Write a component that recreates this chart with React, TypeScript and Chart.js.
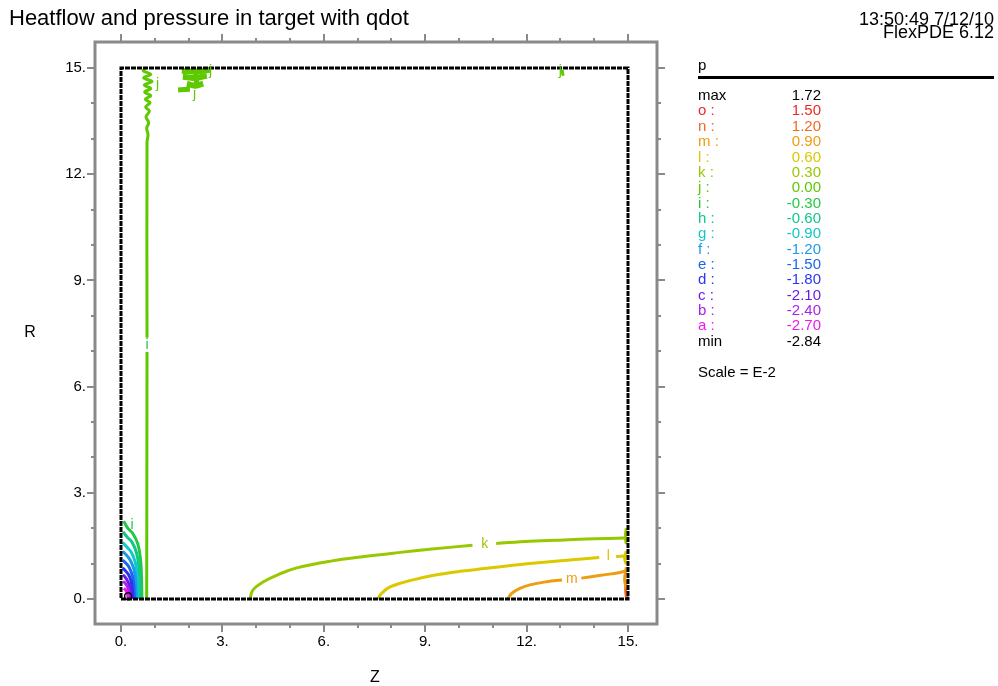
import React, { useEffect, useRef } from "react";
import { Chart, registerables } from "chart.js";

Chart.register(...registerables);

// ---- axis ticks ----
const zMajorTicks = [0, 3, 6, 9, 12, 15];
const rMajorTicks = [0, 3, 6, 9, 12, 15];
const minorTicks = [0, 1, 2, 3, 4, 5, 6, 7, 8, 9, 10, 11, 12, 13, 14, 15];
const tickLabels = ["0.", "3.", "6.", "9.", "12.", "15."];

// ---- contour levels (scale E-2) ----
const levelLetters = ["o", "n", "m", "l", "k", "j", "i", "h", "g", "f", "e", "d", "c", "b", "a"];
const levelValues = ["1.50", "1.20", "0.90", "0.60", "0.30", "0.00", "-0.30", "-0.60", "-0.90", "-1.20", "-1.50", "-1.80", "-2.10", "-2.40", "-2.70"];
const levelColors = ["#ee2a22", "#ee6a22", "#ee9c11", "#dcc800", "#98c800", "#5ec800", "#22c844", "#11c888", "#11c8c8", "#1a9aee", "#1a66ee", "#2a36ee", "#6a1aee", "#aa22ee", "#ee18ee"];
const pMax = "1.72";
const pMin = "-2.84";

// domain outline (Z, R)
const domainBox = [[0, 0], [15, 0], [15, 15], [0, 15], [0, 0]];

// contour polylines as (Z, R) pairs; null breaks the line for a label
const contourK = [[3.82, 0], [3.9, 0.25], [4.2, 0.48], [4.7, 0.71], [5.2, 0.88], [6.2, 1.07], [7.2, 1.2], [8.2, 1.31], [9.2, 1.41], [10.4, 1.52], null, [11.1, 1.57], [12.1, 1.63], [13.1, 1.67], [14.0, 1.7], [14.9, 1.72]];
const contourL = [[7.6, 0], [7.7, 0.15], [7.96, 0.34], [8.64, 0.54], [9.3, 0.68], [10.1, 0.79], [11.1, 0.9], [12.1, 1.0], [13.1, 1.09], [14.15, 1.17], null, [14.65, 1.2], [14.95, 1.22]];
const contourM = [[11.45, 0], [11.55, 0.15], [11.8, 0.3], [12.1, 0.4], [12.6, 0.49], [13.05, 0.54], null, [13.62, 0.59], [14.2, 0.67], [14.76, 0.75], [14.95, 0.8]];
const edgeK = [[14.95, 1.55], [14.92, 1.75], [14.95, 2.0]];
const edgeL = [[14.95, 0.98], [14.9, 1.15], [14.95, 1.35]];
const edgeM = [[14.95, 0.3], [14.9, 0.55], [14.95, 0.9]];
const edgeN = [[14.95, 0.05], [14.93, 0.3], [14.95, 0.55]];
const edgeO = [[14.97, 0], [14.97, 0.2]];

const contourJ = [[0.74, 15], [0.66, 14.92], [0.88, 14.82], [0.67, 14.72], [0.92, 14.62], [0.69, 14.52], [0.88, 14.42], [0.7, 14.32], [0.88, 14.22], [0.72, 14.12], [0.86, 14.02], [0.73, 13.9], [0.84, 13.78], [0.74, 13.62], [0.82, 13.46], [0.76, 13.3], [0.8, 13.12], [0.77, 12.9], [0.77, 7.38], null, [0.77, 6.98], [0.76, 0]];
const blobJ1 = [[1.8, 14.92], [2.2, 14.9], [2.63, 14.95]];
const blobJ2 = [[1.83, 14.75], [2.2, 14.72], [2.54, 14.78]];
const blobJ3 = [[1.95, 14.55], [2.2, 14.5], [2.43, 14.56]];
const blobJ4 = [[1.69, 14.38], [2.04, 14.4]];
const blobJ5 = [[2.2, 14.95], [2.25, 14.45]];
const blobJ6 = [[13.05, 14.95], [13.08, 14.78]];

const arcI = [[0.08, 2.2], [0.2, 2.0], [0.35, 1.85], [0.5, 1.55], [0.58, 1.1], [0.61, 0.5], [0.62, 0]];
const arcH = [[0.06, 1.9], [0.18, 1.75], [0.33, 1.6], [0.46, 1.3], [0.53, 0.9], [0.56, 0.4], [0.56, 0]];
const arcG = [[0.05, 1.6], [0.16, 1.48], [0.3, 1.33], [0.42, 1.05], [0.48, 0.7], [0.5, 0.3], [0.5, 0]];
const arcF = [[0.05, 1.35], [0.15, 1.25], [0.27, 1.1], [0.38, 0.85], [0.43, 0.55], [0.45, 0.2], [0.45, 0]];
const arcE = [[0.05, 1.1], [0.14, 1.02], [0.25, 0.88], [0.34, 0.65], [0.38, 0.4], [0.4, 0]];
const arcD = [[0.05, 0.88], [0.13, 0.8], [0.23, 0.68], [0.3, 0.5], [0.34, 0.25], [0.35, 0]];
const arcC = [[0.05, 0.68], [0.12, 0.62], [0.2, 0.5], [0.26, 0.35], [0.29, 0.15], [0.3, 0]];
const arcB = [[0.06, 0.5], [0.12, 0.45], [0.19, 0.35], [0.23, 0.2], [0.25, 0]];
const arcA = [[0.08, 0.3], [0.13, 0.26], [0.18, 0.18], [0.2, 0.08], [0.21, 0]];
const minMarker = [[0.21, 0.08]];

// labels on the contours: letter, Z, R
const lineLabels: [string, number, number][] = [
  ["k", 10.76, 1.54],
  ["l", 14.42, 1.2],
  ["m", 13.34, 0.56],
  ["i", 0.77, 7.18],
  ["i", 0.33, 2.1],
  ["j", 1.08, 14.55],
  ["j", 2.18, 14.25],
  ["j", 2.65, 14.9],
  ["j", 13.0, 14.9],
];

const colorOf = (letter: string) => levelColors[levelLetters.indexOf(letter)];

const toXY = (pts: (number[] | null)[]) =>
  pts.map((p) => (p ? { x: p[0], y: p[1] } : { x: NaN, y: null }));

const FONT = "'Liberation Sans', Arial, sans-serif";

export default function App() {
  const ref = useRef<HTMLCanvasElement>(null);

  useEffect(() => {
    const canvas = ref.current;
    if (!canvas) return;

    const line = (pts: (number[] | null)[], color: string, width = 3) => ({
      data: toXY(pts),
      showLine: true,
      borderColor: color,
      backgroundColor: color,
      borderWidth: width,
      pointRadius: 0,
      tension: 0.4,
      spanGaps: false,
      fill: false,
    });

    const frame = {
      id: "flexFrame",
      afterDraw(chart: any) {
        const ctx = chart.ctx as CanvasRenderingContext2D;
        const xs = chart.scales.x;
        const ys = chart.scales.y;
        const a = chart.chartArea;
        ctx.save();
        // outer frame
        ctx.strokeStyle = "#8a8a8a";
        ctx.lineWidth = 3;
        ctx.strokeRect(a.left, a.top, a.right - a.left, a.bottom - a.top);
        // ticks on all four sides
        ctx.lineWidth = 2;
        minorTicks.forEach((v) => {
          const len = zMajorTicks.includes(v) ? 8 : 4;
          const px = Math.round(xs.getPixelForValue(v));
          ctx.beginPath();
          ctx.moveTo(px, a.bottom);
          ctx.lineTo(px, a.bottom + len);
          ctx.moveTo(px, a.top);
          ctx.lineTo(px, a.top - len);
          ctx.stroke();
        });
        minorTicks.forEach((v) => {
          const len = rMajorTicks.includes(v) ? 8 : 4;
          const py = Math.round(ys.getPixelForValue(v));
          ctx.beginPath();
          ctx.moveTo(a.left, py);
          ctx.lineTo(a.left - len, py);
          ctx.moveTo(a.right, py);
          ctx.lineTo(a.right + len, py);
          ctx.stroke();
        });
        // tick labels
        ctx.fillStyle = "#000";
        ctx.font = `15px ${FONT}`;
        ctx.textBaseline = "middle";
        ctx.textAlign = "center";
        zMajorTicks.forEach((v, i) => {
          ctx.fillText(tickLabels[i], xs.getPixelForValue(v), a.bottom + 18);
        });
        ctx.textAlign = "right";
        rMajorTicks.forEach((v, i) => {
          ctx.fillText(tickLabels[i], a.left - 9, ys.getPixelForValue(v));
        });
        // axis titles
        ctx.textAlign = "center";
        ctx.font = `16px ${FONT}`;
        ctx.fillText("Z", 375, 678);
        ctx.fillText("R", 30, 333);

        // labels placed on the contour lines
        ctx.font = `14px ${FONT}`;
        lineLabels.forEach(([t, z, r]) => {
          ctx.fillStyle = colorOf(t);
          ctx.fillText(t, xs.getPixelForValue(z), ys.getPixelForValue(r));
        });

        // header
        ctx.fillStyle = "#000";
        ctx.textAlign = "left";
        ctx.font = `22px ${FONT}`;
        ctx.fillText("Heatflow and pressure in target with qdot", 9, 19);
        ctx.textAlign = "right";
        ctx.font = `18px ${FONT}`;
        ctx.fillText("13:50:49 7/12/10", 994, 20);
        ctx.fillText("FlexPDE 6.12", 994, 33);

        // level table
        ctx.textAlign = "left";
        ctx.font = `15px ${FONT}`;
        ctx.fillText("p", 698, 66);
        ctx.lineWidth = 3;
        ctx.strokeStyle = "#000";
        ctx.beginPath();
        ctx.moveTo(698, 77.5);
        ctx.lineTo(994, 77.5);
        ctx.stroke();
        const x0 = 698;
        const x1 = 821;
        const y0 = 96;
        const dy = 15.35;
        ctx.fillText("max", x0, y0);
        ctx.textAlign = "right";
        ctx.fillText(pMax, x1, y0);
        levelLetters.forEach((l, i) => {
          const y = y0 + dy * (i + 1);
          ctx.fillStyle = levelColors[i];
          ctx.textAlign = "left";
          ctx.fillText(`${l} :`, x0, y);
          ctx.textAlign = "right";
          ctx.fillText(levelValues[i], x1, y);
        });
        const yMin = y0 + dy * (levelLetters.length + 1);
        ctx.fillStyle = "#000";
        ctx.textAlign = "left";
        ctx.fillText("min", x0, yMin);
        ctx.textAlign = "right";
        ctx.fillText(pMin, x1, yMin);
        ctx.textAlign = "left";
        ctx.fillText("Scale = E-2", x0, yMin + 31);
        ctx.restore();
      },
    };

    const chart = new Chart(canvas, {
      type: "scatter",
      data: {
        datasets: [
          {
            ...line(domainBox, "#000000", 3),
            tension: 0,
            borderDash: [5, 1],
            clip: 4,
          },
          {
            data: toXY(minMarker),
            pointRadius: 3.5,
            pointBorderColor: "#000",
            pointBackgroundColor: "rgba(0,0,0,0)",
            pointBorderWidth: 1.5,
            showLine: false,
          },
          line(arcA, colorOf("a")),
          line(arcB, colorOf("b")),
          line(arcC, colorOf("c")),
          line(arcD, colorOf("d")),
          line(arcE, colorOf("e")),
          line(arcF, colorOf("f")),
          line(arcG, colorOf("g")),
          line(arcH, colorOf("h")),
          line(arcI, colorOf("i")),
          line(contourJ, colorOf("j")),
          line(blobJ1, colorOf("j"), 6),
          line(blobJ2, colorOf("j"), 6),
          line(blobJ3, colorOf("j"), 6),
          line(blobJ4, colorOf("j"), 5),
          line(blobJ5, colorOf("j"), 5),
          line(blobJ6, colorOf("j"), 3),
          line(contourK, colorOf("k")),
          line(contourL, colorOf("l")),
          line(contourM, colorOf("m")),
          line(edgeK, colorOf("k")),
          line(edgeL, colorOf("l")),
          line(edgeM, colorOf("m")),
          line(edgeN, colorOf("n")),
          line(edgeO, colorOf("o")),
        ] as any,
      },
      options: {
        responsive: false,
        animation: false,
        events: [],
        layout: { padding: { left: 95, top: 42, right: 341, bottom: 62 } },
        plugins: { legend: { display: false }, tooltip: { enabled: false }, title: { display: false } },
        scales: {
          x: { type: "linear", min: -0.769, max: 15.858, display: false },
          y: { type: "linear", min: -0.706, max: 15.734, display: false },
        },
      },
      plugins: [frame],
    });

    return () => chart.destroy();
  }, []);

  return (
    <div style={{ position: "fixed", left: 0, top: 0, width: 998, height: 686, background: "#fff" }}>
      <canvas ref={ref} width={998} height={686} style={{ width: 998, height: 686, display: "block" }} />
    </div>
  );
}
